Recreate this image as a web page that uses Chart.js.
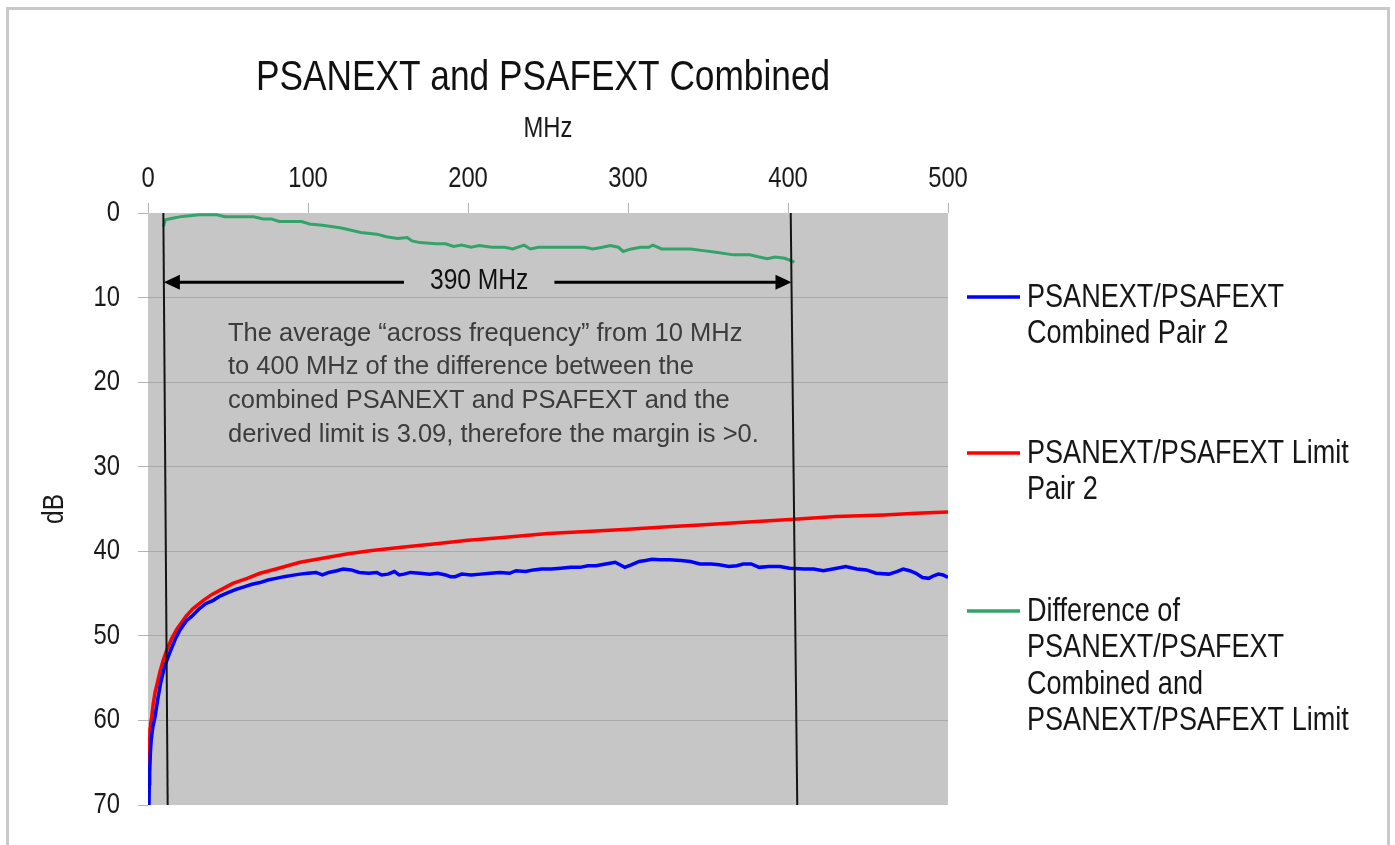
<!DOCTYPE html>
<html><head><meta charset="utf-8">
<script src="https://cdn.jsdelivr.net/npm/chart.js@4.4.1/dist/chart.umd.min.js"></script>
<style>html,body{margin:0;padding:0;background:#fff;overflow:hidden}canvas{display:block}</style>
</head><body>
<canvas id="c" width="1395" height="845"></canvas>
<script>
// ---------- data ----------
const chartTitle = 'PSANEXT and PSAFEXT Combined';
const xTitle = 'MHz';
const yTitle = 'dB';
const xTickValues = [0, 100, 200, 300, 400, 500];
const yTickValues = [0, 10, 20, 30, 40, 50, 60, 70];

const blueMHz = [0.6,0.8,1,1.5,2,3,4.4,6,7.9,10,12,14.2,17,20,24,27.3,32,36,40.8,45,50,55,60,65,70,75,80,85,90,95,100,105,109,113,118,122,127,132,138,143,146,150,154,157,160,164,170,176,181,186,189,192,196,202,208,214,220,226,230,236,241,246,252,258,264,270,275,280,286,292,295,298,302,307,311,315,320,326,333,339,345,352,357,363,368,372,377,382,388,395,401,410,416,422,428,436,443,449,455,463,468,472,476,480,484,488,491,494,497,500];
const blueDb  = [70.0,67.5,66.3,63.8,62.3,60.8,59.6,57.6,55.6,53.9,52.8,51.7,50.4,49.3,48.2,47.7,46.8,46.2,45.8,45.3,44.9,44.5,44.2,43.9,43.7,43.4,43.2,43.0,42.85,42.7,42.6,42.5,42.8,42.5,42.3,42.1,42.2,42.5,42.6,42.5,42.8,42.7,42.4,42.8,42.7,42.5,42.6,42.7,42.6,42.8,43.0,43.0,42.7,42.8,42.7,42.6,42.5,42.6,42.3,42.4,42.2,42.1,42.1,42.0,41.9,41.9,41.7,41.7,41.5,41.3,41.6,41.9,41.6,41.2,41.1,40.95,41.0,41.0,41.1,41.2,41.5,41.5,41.6,41.8,41.7,41.5,41.5,41.9,41.8,41.8,42.0,42.1,42.1,42.3,42.1,41.8,42.1,42.2,42.6,42.7,42.4,42.1,42.3,42.6,43.1,43.2,42.9,42.7,42.8,43.1];

const redMHz = [0.6,0.8,1,1.25,1.6,2.3,3.3,4.5,5.8,7.5,9.5,11.7,14.8,18,23.7,28,34.6,40,46,53,62,70,80,95,110,125,140,160,180,200,220,250,280,300,325,345,370,404,430,460,480,500];
const redDb  = [66.0,64.5,62.8,61.0,60.4,59.6,58.0,56.6,55.6,54.2,52.9,51.7,50.3,49.2,47.7,46.8,45.8,45.1,44.5,43.8,43.2,42.6,42.1,41.3,40.8,40.3,39.9,39.5,39.1,38.7,38.4,37.9,37.6,37.4,37.1,36.9,36.6,36.2,35.9,35.7,35.5,35.35];

const greenMHz = [9.6,10.9,16,21.5,32,43,48,66,72,77,82,96,101,109,120,125,133,143,149,156,162,165,170,180,186,191,196,202,207,215,223,228,235,239,244,273,278,284,289,294,297,302,308,313,315.5,321,339,347,355,366,376,382,387,392,398,404];
const greenDb  = [1.6,0.8,0.6,0.4,0.2,0.2,0.45,0.45,0.7,0.7,1.0,1.0,1.3,1.45,1.75,1.95,2.3,2.5,2.8,3.0,2.9,3.3,3.5,3.65,3.65,3.95,3.8,4.05,3.85,4.05,4.05,4.25,3.8,4.25,4.05,4.05,4.25,4.05,3.85,4.05,4.55,4.25,4.05,4.05,3.8,4.25,4.25,4.45,4.65,4.95,4.95,5.2,5.4,5.2,5.35,5.8];

const seriesNames = [
  ['PSANEXT/PSAFEXT', 'Combined Pair 2'],
  ['PSANEXT/PSAFEXT Limit', 'Pair 2'],
  ['Difference of', 'PSANEXT/PSAFEXT', 'Combined and', 'PSANEXT/PSAFEXT Limit']
];
const seriesColors = ['#0000ff', '#ff0000', '#34a36a'];

// annotation values
const markerTopMHz = [9.6, 401.7];
const markerBottomMHz = [12.3, 405.8];
const spanLabel = '390 MHz';
const spanLabelMHz = 207;
const spanDb = 8.2;
const noteLines = [
  'The average \u201cacross frequency\u201d from 10 MHz',
  'to 400 MHz of the difference between the',
  'combined PSANEXT and PSAFEXT and the',
  'derived limit is 3.09, therefore the margin is >0.'
];
const noteMHz = 50;
const noteDb = 15.1;

// ---------- narrow text (horizontally condensed Liberation Sans) ----------
const SQ = 0.82;
(function () {
  const proto = CanvasRenderingContext2D.prototype;
  const origFill = proto.fillText, origMeasure = proto.measureText;
  proto.fillText = function (text, x, y, maxWidth) {
    if (this.font.indexOf('Narrowed') < 0) return origFill.apply(this, arguments);
    this.save();
    this.translate(x, y);
    this.scale(SQ, 1);
    if (maxWidth !== undefined) origFill.call(this, text, 0, 0, maxWidth / SQ);
    else origFill.call(this, text, 0, 0);
    this.restore();
  };
  proto.measureText = function (text) {
    const m = origMeasure.call(this, text);
    if (this.font.indexOf('Narrowed') < 0) return m;
    return {
      width: m.width * SQ,
      actualBoundingBoxAscent: m.actualBoundingBoxAscent,
      actualBoundingBoxDescent: m.actualBoundingBoxDescent,
      actualBoundingBoxLeft: m.actualBoundingBoxLeft * SQ,
      actualBoundingBoxRight: m.actualBoundingBoxRight * SQ,
      fontBoundingBoxAscent: m.fontBoundingBoxAscent,
      fontBoundingBoxDescent: m.fontBoundingBoxDescent
    };
  };
})();

const NARROW = "Narrowed, 'Liberation Sans', Arial, sans-serif";
const REG = "'Liberation Sans', Arial, sans-serif";

function pts(xs, ys) { return xs.map((v, i) => ({x: v, y: ys[i]})); }

const bgPlugin = {
  id: 'bg',
  beforeDraw(chart) {
    const {ctx, chartArea: a} = chart;
    ctx.save();
    ctx.fillStyle = '#ffffff';
    ctx.fillRect(0, 0, chart.width, chart.height);
    ctx.strokeStyle = '#c9c9c9';
    ctx.lineWidth = 3;
    ctx.beginPath();
    ctx.moveTo(7.5, chart.height + 5);
    ctx.lineTo(7.5, 8.5);
    ctx.lineTo(1388.5, 8.5);
    ctx.lineTo(1388.5, chart.height + 5);
    ctx.stroke();
    ctx.fillStyle = '#c6c6c6';
    ctx.fillRect(a.left, a.top, a.right - a.left, a.bottom - a.top);
    ctx.restore();
  }
};

const annoPlugin = {
  id: 'anno',
  afterDatasetsDraw(chart) {
    const {ctx, chartArea: a, scales: {x, y}} = chart;
    ctx.save();
    // marker lines
    ctx.strokeStyle = '#141414';
    ctx.lineWidth = 2;
    const tops = markerTopMHz.map(v => x.getPixelForValue(v));
    const bots = markerBottomMHz.map(v => x.getPixelForValue(v));
    for (let i = 0; i < tops.length; i++) {
      ctx.beginPath();
      ctx.moveTo(tops[i], a.top);
      ctx.lineTo(bots[i], a.bottom);
      ctx.stroke();
    }
    // arrow
    const yA = y.getPixelForValue(spanDb);
    const f = (yA - a.top) / (a.bottom - a.top);
    const xL = tops[0] + (bots[0] - tops[0]) * f;
    const xR = tops[1] + (bots[1] - tops[1]) * f;
    const xc = x.getPixelForValue(spanLabelMHz);
    ctx.font = '30px ' + NARROW;
    const tw = ctx.measureText(spanLabel).width;
    const gap = tw / 2 + 26;
    ctx.strokeStyle = '#000';
    ctx.fillStyle = '#000';
    ctx.lineWidth = 3;
    ctx.beginPath();
    ctx.moveTo(xL + 10, yA); ctx.lineTo(xc - gap, yA);
    ctx.moveTo(xc + gap, yA); ctx.lineTo(xR - 10, yA);
    ctx.stroke();
    ctx.beginPath();
    ctx.moveTo(xL, yA); ctx.lineTo(xL + 16, yA - 7.5); ctx.lineTo(xL + 16, yA + 7.5); ctx.closePath();
    ctx.fill();
    ctx.beginPath();
    ctx.moveTo(xR, yA); ctx.lineTo(xR - 16, yA - 7.5); ctx.lineTo(xR - 16, yA + 7.5); ctx.closePath();
    ctx.fill();
    ctx.fillStyle = '#111';
    ctx.textAlign = 'center';
    ctx.textBaseline = 'middle';
    ctx.fillText(spanLabel, xc, yA - 2);
    // note
    ctx.font = '25.5px ' + REG;
    ctx.fillStyle = '#3c3c3c';
    ctx.textAlign = 'left';
    ctx.textBaseline = 'alphabetic';
    const nx = x.getPixelForValue(noteMHz);
    const ny = y.getPixelForValue(noteDb);
    noteLines.forEach((t, i) => ctx.fillText(t, nx, ny + i * 33.7));
    ctx.restore();
  },
  afterDraw(chart) {
    const {ctx} = chart;
    ctx.save();
    // title
    ctx.font = '43px ' + NARROW;
    ctx.fillStyle = '#111';
    ctx.textAlign = 'center';
    ctx.textBaseline = 'alphabetic';
    ctx.fillText(chartTitle, 543, 90);
    // legend
    const firstBase = [307, 463, 621];
    ctx.font = '33px ' + NARROW;
    ctx.textAlign = 'left';
    seriesNames.forEach((lines, i) => {
      ctx.strokeStyle = seriesColors[i];
      ctx.lineWidth = 3.5;
      ctx.beginPath();
      ctx.moveTo(967, firstBase[i] - 10);
      ctx.lineTo(1020, firstBase[i] - 10);
      ctx.stroke();
      ctx.fillStyle = '#161616';
      lines.forEach((t, j) => ctx.fillText(t, 1027, firstBase[i] + j * 36.3));
    });
    ctx.restore();
  }
};

const chart = new Chart(document.getElementById('c'), {
  type: 'scatter',
  data: {
    datasets: [
      {label: seriesNames[0].join(' '), data: pts(blueMHz, blueDb), borderColor: seriesColors[0], borderWidth: 3.5, showLine: true, pointRadius: 0, tension: 0},
      {label: seriesNames[1].join(' '), data: pts(redMHz, redDb), borderColor: seriesColors[1], borderWidth: 3.5, showLine: true, pointRadius: 0, tension: 0},
      {label: seriesNames[2].join(' '), data: pts(greenMHz, greenDb), borderColor: seriesColors[2], borderWidth: 3, showLine: true, pointRadius: 0, tension: 0}
    ]
  },
  options: {
    responsive: false,
    animation: false,
    devicePixelRatio: 1,
    layout: {padding: {left: 0, top: 0, right: 447, bottom: 40}},
    plugins: {legend: {display: false}, title: {display: false}, tooltip: {enabled: false}},
    scales: {
      x: {
        type: 'linear', position: 'top', min: 0, max: 500,
        afterBuildTicks: s => { s.ticks = xTickValues.map(v => ({value: v})); },
        afterFit: s => { s.height = 213; },
        ticks: {maxRotation: 0, autoSkip: false, padding: 7, color: '#1a1a1a', font: {family: NARROW, size: 29}},
        grid: {drawOnChartArea: false, tickLength: 10, color: '#b5b5b5'},
        border: {display: false},
        title: {display: true, text: xTitle, color: '#1a1a1a', font: {family: NARROW, size: 29}, padding: {top: 112, bottom: 0}}
      },
      y: {
        type: 'linear', reverse: true, min: 0, max: 70,
        afterBuildTicks: s => { s.ticks = yTickValues.map(v => ({value: v})); },
        afterFit: s => { s.width = 148; },
        ticks: {padding: 18, color: '#1a1a1a', font: {family: NARROW, size: 29}},
        grid: {
          tickLength: 10,
          color: c => (c.tick && (c.tick.value === 0 || c.tick.value === 70)) ? 'rgba(0,0,0,0)' : '#a9a9a9',
          tickColor: '#b5b5b5'
        },
        border: {display: false},
        title: {display: true, text: yTitle, color: '#1a1a1a', font: {family: NARROW, size: 30}, padding: {top: 37, bottom: 0}}
      }
    }
  },
  plugins: [bgPlugin, annoPlugin]
});
</script>
</body></html>
